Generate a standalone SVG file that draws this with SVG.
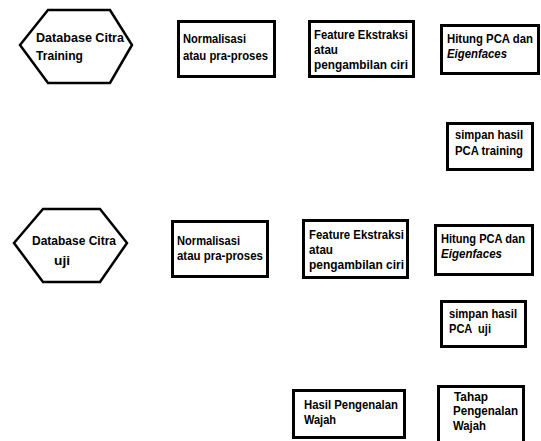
<svg xmlns="http://www.w3.org/2000/svg" width="541" height="441" viewBox="0 0 541 441">
<style>
.box{fill:#fff;stroke:#000;stroke-width:3}
.hex{fill:#fff;stroke:#000;stroke-width:2.5;stroke-linejoin:miter}
.t{font-family:"Liberation Sans",Arial,sans-serif;font-size:13.5px;font-weight:bold;fill:#000}
.i{font-style:italic}
</style>
<rect width="541" height="441" fill="#fff"/>
<g id="connectors"></g>
<g id="db-training">
<polygon class="hex" points="20,45 48,10 110,10 132,45 110,83 48,83"/>
<text class="t" x="36" y="42" textLength="88" lengthAdjust="spacingAndGlyphs">Database Citra</text>
<text class="t" x="36" y="60" textLength="47" lengthAdjust="spacingAndGlyphs">Training</text>
</g>
<g id="normalisasi-1">
<rect class="box" x="178.5" y="21.5" width="96" height="55"/>
<text class="t" x="183" y="43" textLength="63" lengthAdjust="spacingAndGlyphs">Normalisasi</text>
<text class="t" x="183" y="60" textLength="85" lengthAdjust="spacingAndGlyphs">atau pra-proses</text>
</g>
<g id="feature-1">
<rect class="box" x="309.5" y="21.5" width="104" height="55"/>
<text class="t" x="314" y="39" textLength="94" lengthAdjust="spacingAndGlyphs">Feature Ekstraksi</text>
<text class="t" x="314" y="54" textLength="24" lengthAdjust="spacingAndGlyphs">atau</text>
<text class="t" x="314" y="69" textLength="94" lengthAdjust="spacingAndGlyphs">pengambilan ciri</text>
</g>
<g id="hitung-1">
<rect class="box" x="441.5" y="25.5" width="97" height="48"/>
<text class="t" x="447" y="43" textLength="86" lengthAdjust="spacingAndGlyphs">Hitung PCA dan</text>
<text class="t i" x="447" y="58" textLength="60" lengthAdjust="spacingAndGlyphs">Eigenfaces</text>
</g>
<g id="simpan-training">
<rect class="box" x="447.5" y="123.5" width="85" height="46"/>
<text class="t" x="455" y="139" textLength="68" lengthAdjust="spacingAndGlyphs">simpan hasil</text>
<text class="t" x="455" y="155" textLength="68" lengthAdjust="spacingAndGlyphs">PCA training</text>
</g>
<g id="db-uji">
<polygon class="hex" points="14,243 43,209 100,209 127,243 100,282 43,282"/>
<text class="t" x="32" y="245" textLength="84" lengthAdjust="spacingAndGlyphs">Database Citra</text>
<text class="t" x="54" y="265" textLength="16" lengthAdjust="spacingAndGlyphs">uji</text>
</g>
<g id="normalisasi-2">
<rect class="box" x="172.5" y="221.5" width="95" height="55"/>
<text class="t" x="177" y="245" textLength="63" lengthAdjust="spacingAndGlyphs">Normalisasi</text>
<text class="t" x="177" y="260" textLength="86" lengthAdjust="spacingAndGlyphs">atau pra-proses</text>
</g>
<g id="feature-2">
<rect class="box" x="303.5" y="220.5" width="104" height="57"/>
<text class="t" x="309" y="239" textLength="95" lengthAdjust="spacingAndGlyphs">Feature Ekstraksi</text>
<text class="t" x="309" y="254" textLength="24" lengthAdjust="spacingAndGlyphs">atau</text>
<text class="t" x="309" y="269" textLength="95" lengthAdjust="spacingAndGlyphs">pengambilan ciri</text>
</g>
<g id="hitung-2">
<rect class="box" x="435.5" y="225.5" width="97" height="49"/>
<text class="t" x="441" y="243" textLength="84" lengthAdjust="spacingAndGlyphs">Hitung PCA dan</text>
<text class="t i" x="441" y="258" textLength="61" lengthAdjust="spacingAndGlyphs">Eigenfaces</text>
</g>
<g id="simpan-uji">
<rect class="box" x="441.5" y="301.5" width="84" height="45"/>
<text class="t" x="449" y="318" textLength="68" lengthAdjust="spacingAndGlyphs">simpan hasil</text>
<text class="t" x="449" y="333" textLength="42" lengthAdjust="spacingAndGlyphs" xml:space="preserve">PCA  uji</text>
</g>
<g id="hasil">
<rect class="box" x="293.5" y="390.5" width="111" height="47"/>
<text class="t" x="304" y="409" textLength="94" lengthAdjust="spacingAndGlyphs">Hasil Pengenalan</text>
<text class="t" x="304" y="424" textLength="32" lengthAdjust="spacingAndGlyphs">Wajah</text>
</g>
<g id="tahap">
<rect class="box" x="438.5" y="386.5" width="85" height="60"/>
<text class="t" x="454" y="401" textLength="34" lengthAdjust="spacingAndGlyphs">Tahap</text>
<text class="t" x="453" y="415" textLength="65" lengthAdjust="spacingAndGlyphs">Pengenalan</text>
<text class="t" x="453" y="430" textLength="33" lengthAdjust="spacingAndGlyphs">Wajah</text>
</g>
</svg>
